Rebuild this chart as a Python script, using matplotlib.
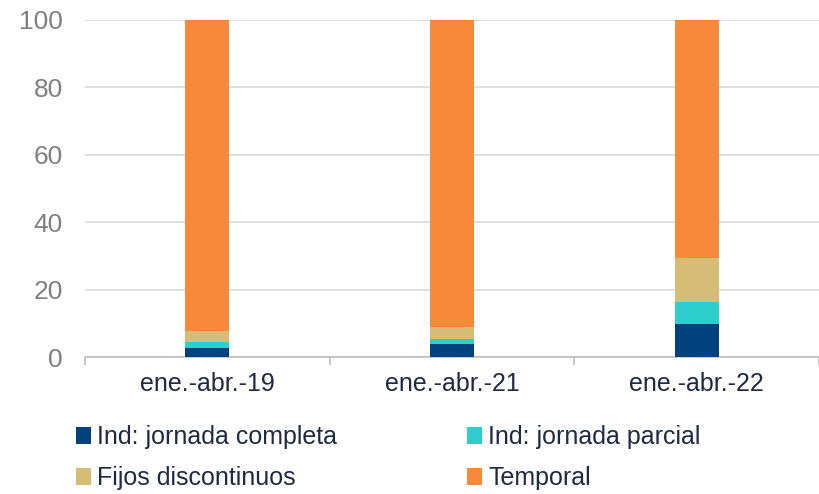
import numpy as np
import matplotlib
matplotlib.use('Agg')
import matplotlib.pyplot as plt
from matplotlib.patches import Patch

plt.rcParams['font.family'] = ['Liberation Sans', 'DejaVu Sans']

# datos (% sobre el total)
periodos = ['ene.-abr.-19', 'ene.-abr.-21', 'ene.-abr.-22']
ind_completa = [2.6, 3.9, 9.8]
ind_parcial = [1.8, 1.6, 6.5]
fijos_disc = [3.4, 3.5, 13.0]
temporal = [92.2, 91.0, 70.7]

series = [
    ('Ind: jornada completa', ind_completa, '#00427e'),
    ('Ind: jornada parcial', ind_parcial, '#2ecece'),
    ('Fijos discontinuos', fijos_disc, '#d6bd76'),
    ('Temporal', temporal, '#f7893b'),
]

fig = plt.figure(figsize=(8.19, 4.94), dpi=100)
ax = fig.add_axes([0.104, 0.277, 0.896, 0.683])

x = np.arange(len(periodos))
base = np.zeros(len(periodos))
for nombre, vals, color in series:
    ax.bar(x, vals, bottom=base, width=0.18, color=color, label=nombre, zorder=3)
    base += np.array(vals)

ax.set_ylim(0, 100)
ax.set_xlim(-0.5, len(periodos) - 0.5)
ax.set_yticks([0, 20, 40, 60, 80, 100])
ax.grid(axis='y', color='#d9d9d9', linewidth=1.2, zorder=0)

ax.set_xticks(x)
ax.set_xticklabels(periodos, fontsize=18, color='#1f2a44')
ax.set_xticks(np.arange(-0.5, len(periodos)), minor=True)
ax.tick_params(axis='x', which='major', length=0, pad=11)
ax.tick_params(axis='x', which='minor', length=6, color='#bfbfbf', width=1.2)
ax.tick_params(axis='y', length=0, labelsize=19, labelcolor='#808080', pad=16)

for s in ['top', 'right', 'left']:
    ax.spines[s].set_visible(False)
ax.spines['bottom'].set_color('#bfbfbf')
ax.spines['bottom'].set_linewidth(1.2)

# orden por filas como en el original
orden = [0, 2, 1, 3]
handles = [Patch(facecolor=series[i][2], label=series[i][0]) for i in orden]
fig.legend(handles=handles, loc='lower left', bbox_to_anchor=(0.065, -0.038), ncol=2,
           frameon=False, fontsize=18, handlelength=0.6, handleheight=0.7,
           handletextpad=0.25, columnspacing=5.2, labelspacing=0.68,
           labelcolor='#1f2a44')

fig.savefig('out.png', dpi=100)
